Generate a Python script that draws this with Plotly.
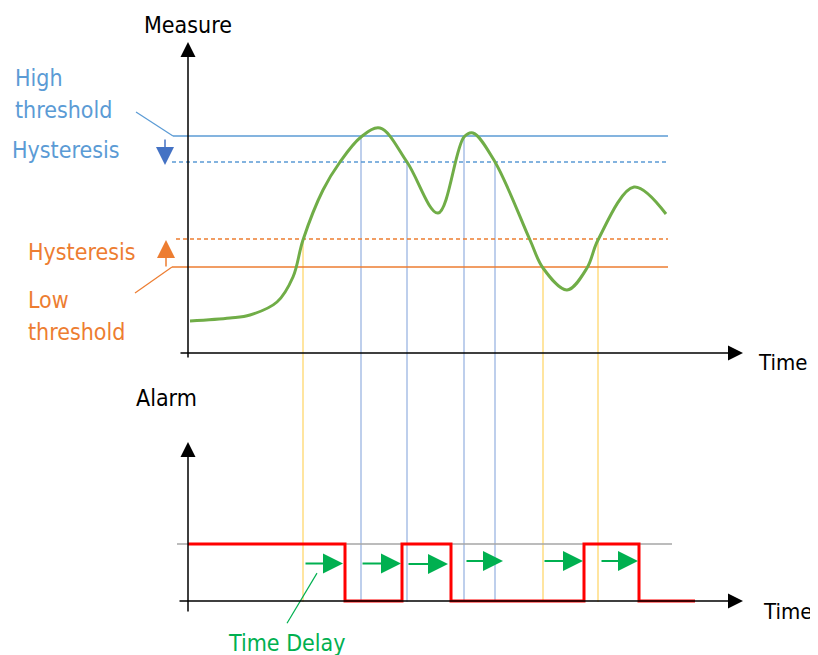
import plotly.graph_objects as go

# Measured signal (time, measure) - key points of the smooth curve
curve_time = [2, 42, 62, 89, 105, 115, 135, 152, 173, 192, 219, 250, 276, 285,
              307, 342, 355, 379, 399, 410, 446, 478]
curve_measure = [32, 35, 38, 51, 76, 113, 163, 191, 216, 225, 191, 140, 216, 220,
                 191, 113, 85, 63, 85, 113, 166, 139]

# Thresholds
high_threshold = 217
high_reset = 191
low_threshold = 86
low_reset = 114

# Threshold crossings (time, level, kind)
cross_time = [115, 173, 219, 276, 307, 355, 410]
cross_level = [low_reset, high_threshold, high_reset, high_threshold, high_reset,
               low_threshold, low_reset]
cross_kind = ["low", "high", "high", "high", "high", "low", "low"]

# Alarm output (step signal)
alarm_time = [0, 157, 214, 263, 396, 451, 507]
alarm_state = [1, 0, 1, 0, 1, 0, 0]

# Time-delay arrows
delay_start = [116, 173, 219, 277, 355, 412]
delay_end = [155, 213, 260, 315, 395, 450]
delay_level = [0.66, 0.66, 0.65, 0.70, 0.70, 0.70]

# layout of the alarm panel inside the shared coordinate frame
ALARM_BASE = -248
ALARM_HEIGHT = 57
# the page body has an 8px margin, so the frame starts 8px in
T_MIN, T_MAX = -180, 630
Y_MIN, Y_MAX = -302, 345

FONT = "Tahoma, DejaVu Sans Condensed, DejaVu Sans, sans-serif"
BLUE = "#5B9BD5"
DARK_BLUE = "#4472C4"
ORANGE = "#ED7D31"
GREEN = "#70AD47"
DELAY_GREEN = "#00B050"


def alarm_y(a):
    return ALARM_BASE + a * ALARM_HEIGHT


def seg(fig, x, y, color, width=1.5, dash="solid"):
    fig.add_trace(go.Scatter(x=x, y=y, mode="lines", hoverinfo="skip",
                             line=dict(color=color, width=width, dash=dash)))


def arrow(fig, x0, y0, x1, y1, color, width=1.5, size=2.0):
    fig.add_annotation(x=x1, y=y1, ax=x0, ay=y0, xref="x", yref="y",
                       axref="x", ayref="y", text="", showarrow=True,
                       arrowhead=2, arrowsize=size, arrowwidth=width,
                       arrowcolor=color, standoff=0, startstandoff=0)


def label(fig, x, y, text, color="black", anchor="left", size=23):
    fig.add_annotation(x=x, y=y, text=text, showarrow=False, xanchor=anchor,
                       yanchor="middle", font=dict(family=FONT, size=size, color=color))


fig = go.Figure()

# vertical crossing markers, down to the alarm baseline
for t, lvl, kind in zip(cross_time, cross_level, cross_kind):
    col = "#FFDD80" if kind == "low" else "#A9BFE6"
    seg(fig, [t, t], [lvl, alarm_y(0) - 1], col, width=1.5)

# threshold lines
seg(fig, [-15, 480], [high_threshold] * 2, BLUE, 1.5)
seg(fig, [-16, 480], [high_reset] * 2, BLUE, 1.3, "4px,3px")
seg(fig, [-12, 480], [low_reset] * 2, ORANGE, 1.3, "4px,3px")
seg(fig, [-16, 480], [low_threshold] * 2, ORANGE, 1.5)

# leader lines
seg(fig, [-52, -15], [241, high_threshold], BLUE, 1.2)
seg(fig, [-53, -16], [60, low_threshold], ORANGE, 1.2)

# measure curve
fig.add_trace(go.Scatter(x=curve_time, y=curve_measure, mode="lines",
                         line=dict(color=GREEN, width=3, shape="spline", smoothing=1.0),
                         hoverinfo="skip"))

# hysteresis arrows
arrow(fig, -23, high_threshold - 2, -23, high_reset - 3, DARK_BLUE, 1.5, 2.4)
arrow(fig, -22, low_threshold - 1, -22, low_reset - 1, ORANGE, 1.5, 2.4)

# measure axes
arrow(fig, 0, -6, 0, 311, "black", 1.5, 2.0)
arrow(fig, -9, 0, 555, 0, "black", 1.5, 2.0)

# alarm panel axes and reference line
seg(fig, [-11, 484], [alarm_y(1)] * 2, "#A6A6A6", 1.5)
arrow(fig, 0, alarm_y(-0.21), 0, alarm_y(2.79), "black", 1.5, 2.0)
arrow(fig, -10, alarm_y(0), 555, alarm_y(0), "black", 1.5, 2.0)

# alarm signal
fig.add_trace(go.Scatter(x=alarm_time, y=[alarm_y(a) for a in alarm_state],
                         mode="lines", line=dict(color="#FF0000", width=3, shape="hv"),
                         hoverinfo="skip"))

# time-delay arrows
for t0, t1, lv in zip(delay_start, delay_end, delay_level):
    arrow(fig, t0, alarm_y(lv), t1, alarm_y(lv), DELAY_GREEN, 2, 2.0)
seg(fig, [129, 99], [alarm_y(0.49), alarm_y(-0.39)], DELAY_GREEN, 1.2)

# texts
label(fig, 0, 328, "Measure", anchor="center")
label(fig, 568, -9, "Time", size=22)
label(fig, -22, alarm_y(3.56), "Alarm", anchor="center")
label(fig, 573, alarm_y(-0.19), "Time", size=22)
label(fig, -175, 275, "High", BLUE)
label(fig, -175, 243, "threshold", BLUE)
label(fig, -178, 203, "Hysteresis", BLUE)
label(fig, -162, 101, "Hysteresis", ORANGE)
label(fig, -162, 53, "Low", ORANGE)
label(fig, -162, 21, "threshold", ORANGE)
label(fig, 98, alarm_y(-0.73), "Time Delay", DELAY_GREEN, anchor="center")

fig.update_layout(
    width=810, height=647,
    margin=dict(l=0, r=0, t=0, b=0),
    paper_bgcolor="white", plot_bgcolor="white",
    showlegend=False,
    xaxis=dict(range=[T_MIN, T_MAX], visible=False, fixedrange=True),
    yaxis=dict(range=[Y_MIN, Y_MAX], visible=False, fixedrange=True),
)

fig.write_html("out.html")
